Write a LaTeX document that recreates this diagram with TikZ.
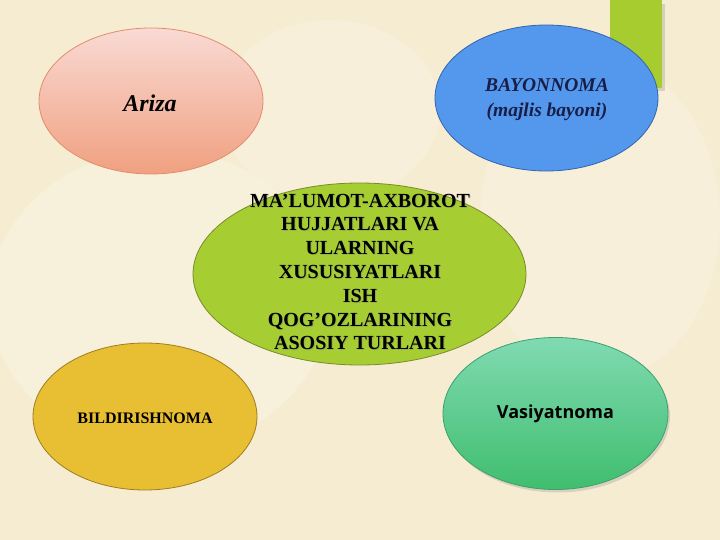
\documentclass[tikz,border=0pt]{standalone}
\usepackage{fontspec}
\setmainfont{Liberation Serif}
\newfontfamily\opensans{Open Sans}
\usetikzlibrary{shapes.geometric,shadows}
\definecolor{bgcream}{RGB}{245,236,210}
\definecolor{bglight}{RGB}{250,244,228}
\definecolor{barlime}{RGB}{166,204,48}
\definecolor{arizatop}{RGB}{249,218,212}
\definecolor{arizabot}{RGB}{240,160,128}
\definecolor{arizaedge}{RGB}{226,140,110}
\definecolor{bayfill}{RGB}{84,152,238}
\definecolor{bayedge}{RGB}{52,100,170}
\definecolor{baytext}{RGB}{24,30,70}
\definecolor{centerfill}{RGB}{166,206,50}
\definecolor{centeredge}{RGB}{120,140,40}
\definecolor{goldfill}{RGB}{232,190,50}
\definecolor{goldedge}{RGB}{160,125,30}
\definecolor{vastop}{RGB}{128,218,178}
\definecolor{vasbot}{RGB}{64,190,110}
\definecolor{vasedge}{RGB}{60,160,110}
\tikzset{
  x=1pt, y=-1pt,
  blob/.style={draw, ellipse, line width=0.8pt, inner sep=0pt},
  lbl/.style={align=center, text=black},
}
\begin{document}
\begin{tikzpicture}
\useasboundingbox (0,0) rectangle (720,540);
% background
\fill[bgcream] (0,0) rectangle (720,540);
\fill[bglight, opacity=0.5] (160,300) ellipse (170 and 150);
\fill[bglight, opacity=0.4] (600,220) ellipse (120 and 160);
\fill[bglight, opacity=0.4] (330,110) ellipse (110 and 90);
% lime bar
\fill[black, opacity=0.12] (612,4) rectangle (665,91);
\fill[barlime] (610,0) rectangle (662,88);
% ellipses
\node[blob, draw=arizaedge, top color=arizatop, bottom color=arizabot,
      minimum width=224, minimum height=146] (ariza) at (151,101) {};
\node[blob, draw=bayedge, fill=bayfill,
      minimum width=223, minimum height=146] (bay) at (546.5,98) {};
\node[blob, draw=centeredge, fill=centerfill,
      minimum width=333, minimum height=182] (main) at (359.5,274) {};
\node[blob, draw=goldedge, fill=goldfill,
      minimum width=224, minimum height=147] (bild) at (145,416.5) {};
\node[blob, draw=vasedge, top color=vastop, bottom color=vasbot,
      drop shadow={opacity=0.25, shadow xshift=2pt, shadow yshift=-3pt},
      minimum width=225, minimum height=152] (vas) at (555.5,413.5) {};
% texts
\node[lbl, font=\fontsize{24}{28}\selectfont\bfseries\itshape] (arizat) at (150,103) {Ariza};
\node[lbl, text=baytext, font=\fontsize{19.5}{25}\selectfont\bfseries\itshape] (bayt) at (547,99.5) {BAYONNOMA\\(majlis bayoni)};
\node[lbl, text=gray, opacity=0.35, font=\fontsize{20}{23.8}\selectfont\bfseries] at (361,273)
  {MA’LUMOT-AXBOROT\\HUJJATLARI VA\\ULARNING\\XUSUSIYATLARI\\ISH\\QOG’OZLARINING\\ASOSIY TURLARI};
\node[lbl, font=\fontsize{20}{23.8}\selectfont\bfseries] (maint) at (360,272)
  {MA’LUMOT-AXBOROT\\HUJJATLARI VA\\ULARNING\\XUSUSIYATLARI\\ISH\\QOG’OZLARINING\\ASOSIY TURLARI};
\node[lbl, font=\fontsize{16}{19}\selectfont\bfseries] (bildt) at (145,418) {BILDIRISHNOMA};
\node[lbl, font=\fontsize{18}{21}\selectfont\opensans\bfseries] (vast) at (555.5,414) {Vasiyatnoma};
\end{tikzpicture}
\end{document}
